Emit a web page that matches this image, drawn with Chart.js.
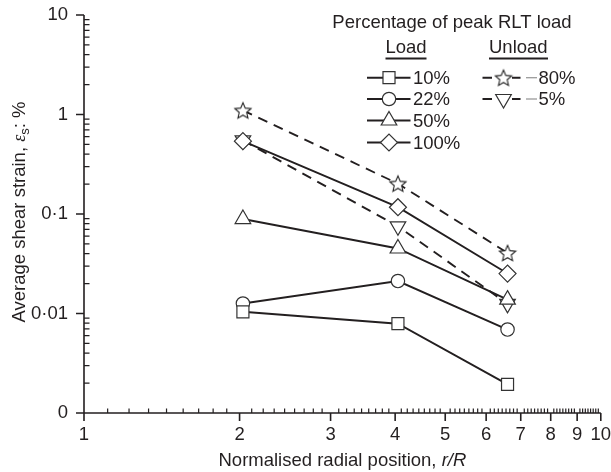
<!DOCTYPE html>
<html>
<head>
<meta charset="utf-8">
<script src="https://cdn.jsdelivr.net/npm/chart.js@4.4.1/dist/chart.umd.min.js"></script>
<style>
  html, body { margin: 0; padding: 0; background: #fff; }
  #grafico { display: block; }
</style>
</head>
<body>
<canvas id="grafico" width="611" height="472"></canvas>
<script>
// radial positions (r/R) where the strain was measured
const radialPos = [2.03, 4.05, 6.6];

// average shear strain (%) while loading
const load10 = [0.0104, 0.0079, 0.00194];
const load22 = [0.0126, 0.0212, 0.0069];
const load50 = [0.089, 0.045, 0.0138];
const load100 = [0.54, 0.117, 0.0252];

// average shear strain (%) while unloading
const unload80 = [1.1, 0.202, 0.0406];
const unload5 = [0.55, 0.0752, 0.0125];

const xTicks = [1, 2, 3, 4, 5, 6, 7, 8, 9, 10];
const yTicks = [0.001, 0.01, 0.1, 1, 10];
const yTickLabels = ["0", "0·01", "0·1", "1", "10"];

const INK = "#231f20";
const FONT = '"Liberation Sans", Arial, sans-serif';
const SIZE = 18.5;

// outlined five point star, used as a point style
function makeStar() {
  const c = document.createElement("canvas");
  c.width = 20;
  c.height = 20;
  const g = c.getContext("2d");
  g.beginPath();
  for (let i = 0; i < 10; i++) {
    const r = i % 2 === 0 ? 8.5 : 3.9;
    const a = -Math.PI / 2 + (i * Math.PI) / 5;
    const px = 10 + r * Math.cos(a);
    const py = 10.8 + r * Math.sin(a);
    if (i === 0) g.moveTo(px, py);
    else g.lineTo(px, py);
  }
  g.closePath();
  g.fillStyle = "#fff";
  g.fill();
  g.lineWidth = 1.1;
  g.strokeStyle = "#222";
  g.stroke();
  return c;
}
const star = makeStar();

function pares(ys) {
  return radialPos.map((x, i) => ({ x: x, y: ys[i] }));
}

function serie(label, ys, style, radius, rotation, dashed) {
  return {
    label: label,
    data: pares(ys),
    borderColor: INK,
    borderWidth: 1.9,
    borderDash: dashed ? [10, 7] : [],
    pointStyle: style,
    pointRadius: radius,
    pointHoverRadius: radius,
    pointRotation: rotation,
    pointBorderColor: "#333",
    pointBorderWidth: 1.2,
    pointBackgroundColor: "#fff",
    tension: 0,
    fill: false,
    dashed: dashed
  };
}

const datasets = [
  serie("10%", load10, "rect", 8.5, 0, false),
  serie("22%", load22, "circle", 6.7, 0, false),
  serie("50%", load50, "triangle", 9, 0, false),
  serie("100%", load100, "rectRot", 8.5, 0, false),
  serie("80%", unload80, star, 8, 0, true),
  serie("5%", unload5, "triangle", 9, 180, true)
];

// draws a run of text pieces with their own fonts, one after another
function textoMisto(ctx, pecas, x, y, align) {
  let total = 0;
  pecas.forEach((p) => {
    ctx.font = p.font;
    total += ctx.measureText(p.t).width;
  });
  let cx = align === "center" ? x - total / 2 : x;
  ctx.textAlign = "left";
  ctx.textBaseline = "alphabetic";
  pecas.forEach((p) => {
    ctx.font = p.font;
    ctx.fillText(p.t, cx, y + (p.dy || 0));
    cx += ctx.measureText(p.t).width;
  });
}

function marcador(ctx, ds, x, y) {
  ctx.save();
  ctx.fillStyle = "#fff";
  ctx.strokeStyle = "#333";
  ctx.lineWidth = 1.2;
  ctx.setLineDash([]);
  Chart.helpers.drawPoint(ctx, {
    pointStyle: ds.pointStyle,
    radius: ds.pointRadius,
    rotation: ds.pointRotation,
    borderWidth: 1.2
  }, x, y);
  ctx.restore();
}

const eixos = {
  id: "eixos",
  afterDatasetsDraw(chart) {
    const ctx = chart.ctx;
    const ca = chart.chartArea;
    const sx = chart.scales.x;
    const sy = chart.scales.y;
    ctx.save();
    ctx.strokeStyle = INK;
    ctx.lineWidth = 1.6;
    ctx.beginPath();
    ctx.moveTo(ca.left, ca.top);
    ctx.lineTo(ca.left, ca.bottom);
    ctx.moveTo(ca.left, ca.bottom);
    ctx.lineTo(ca.right, ca.bottom);
    xTicks.forEach((v) => {
      const px = sx.getPixelForValue(v);
      ctx.moveTo(px, ca.bottom);
      ctx.lineTo(px, ca.bottom + 8);
    });
    yTicks.forEach((v) => {
      const py = sy.getPixelForValue(v);
      ctx.moveTo(ca.left, py);
      ctx.lineTo(ca.left - 8, py);
    });
    ctx.stroke();

    // minor ticks point into the plot
    ctx.lineWidth = 1.2;
    ctx.beginPath();
    for (let n = 1; n < 10; n++) {
      for (let k = 1; k < 9; k++) {
        const px = sx.getPixelForValue(n + k / 9);
        ctx.moveTo(px, ca.bottom);
        ctx.lineTo(px, ca.bottom - 4.5);
      }
    }
    [0.001, 0.01, 0.1, 1].forEach((d) => {
      for (let m = 2; m < 10; m++) {
        const py = sy.getPixelForValue(d * m);
        ctx.moveTo(ca.left, py);
        ctx.lineTo(ca.left + 5.5, py);
      }
    });
    ctx.stroke();

    // axis titles
    ctx.fillStyle = INK;
    textoMisto(ctx, [
      { t: "Normalised radial position, ", font: SIZE + "px " + FONT },
      { t: "r/R", font: "italic " + SIZE + "px " + FONT }
    ], (ca.left + ca.right) / 2, 466, "center");

    ctx.save();
    ctx.translate(25, 212);
    ctx.rotate(-Math.PI / 2);
    textoMisto(ctx, [
      { t: "Average shear strain, ", font: SIZE + "px " + FONT },
      { t: "ε", font: 'italic 18px "Liberation Serif", serif' },
      { t: "s", font: "13px " + FONT, dy: 4 },
      { t: ": %", font: SIZE + "px " + FONT }
    ], 0, 0, "center");
    ctx.restore();

    // key
    ctx.font = SIZE + "px " + FONT;
    ctx.textAlign = "center";
    ctx.textBaseline = "alphabetic";
    ctx.fillText("Percentage of peak RLT load", 452, 28);
    ctx.textAlign = "left";
    ctx.fillText("Load", 385.5, 53);
    ctx.fillText("Unload", 489, 53);
    ctx.lineWidth = 2;
    ctx.beginPath();
    ctx.moveTo(385.5, 58.5);
    ctx.lineTo(426.5, 58.5);
    ctx.moveTo(489, 58.5);
    ctx.lineTo(548, 58.5);
    ctx.stroke();

    const linhas = [77.7, 99, 120.5, 142.5];
    ctx.textBaseline = "middle";
    chart.data.datasets.forEach((ds, i) => {
      if (!ds.dashed) {
        const ly = linhas[i];
        ctx.lineWidth = 1.9;
        ctx.strokeStyle = INK;
        ctx.beginPath();
        ctx.moveTo(367, ly);
        ctx.lineTo(410.5, ly);
        ctx.stroke();
        marcador(ctx, ds, 389, ly);
        ctx.fillStyle = INK;
        ctx.fillText(ds.label, 413, ly + 1);
      } else {
        const ly = linhas[i - 4];
        ctx.lineWidth = 1.9;
        ctx.strokeStyle = INK;
        ctx.beginPath();
        ctx.moveTo(482.5, ly);
        ctx.lineTo(492, ly);
        ctx.moveTo(512, ly);
        ctx.lineTo(520.5, ly);
        ctx.stroke();
        ctx.strokeStyle = "#9a9a9a";
        ctx.lineWidth = 1.3;
        ctx.beginPath();
        ctx.moveTo(526, ly);
        ctx.lineTo(537, ly);
        ctx.stroke();
        marcador(ctx, ds, 503.5, ly);
        ctx.fillStyle = INK;
        ctx.fillText(ds.label, 538.5, ly + 1);
      }
    });
    ctx.restore();
  }
};

Chart.defaults.font.family = FONT;
Chart.defaults.font.size = SIZE;
Chart.defaults.color = INK;

new Chart(document.getElementById("grafico"), {
  type: "line",
  data: { datasets: datasets },
  options: {
    responsive: false,
    animation: false,
    events: [],
    layout: { padding: { top: 15, right: 9, bottom: 0, left: 0 } },
    plugins: {
      legend: { display: false },
      tooltip: { enabled: false }
    },
    scales: {
      x: {
        type: "logarithmic",
        min: 1,
        max: 10,
        grid: { display: false, drawTicks: false },
        border: { display: false },
        afterBuildTicks: (scale) => {
          scale.ticks = xTicks.map((v) => ({ value: v }));
        },
        afterFit: (scale) => {
          scale.height = 59;
          scale.paddingLeft = 0;
          scale.paddingRight = 0;
        },
        ticks: {
          autoSkip: false,
          maxRotation: 0,
          padding: 11,
          callback: (v) => String(v)
        }
      },
      y: {
        type: "logarithmic",
        min: 0.001,
        max: 10,
        grid: { display: false, drawTicks: false },
        border: { display: false },
        afterBuildTicks: (scale) => {
          scale.ticks = yTicks.map((v) => ({ value: v }));
        },
        afterFit: (scale) => {
          scale.width = 84;
          scale.paddingTop = 0;
          scale.paddingBottom = 0;
        },
        ticks: {
          autoSkip: false,
          padding: 16,
          callback: (v) => {
            const i = yTicks.findIndex((t) => Math.abs(t - v) / t < 1e-6);
            return i >= 0 ? yTickLabels[i] : "";
          }
        }
      }
    }
  },
  plugins: [eixos]
});
</script>
</body>
</html>
